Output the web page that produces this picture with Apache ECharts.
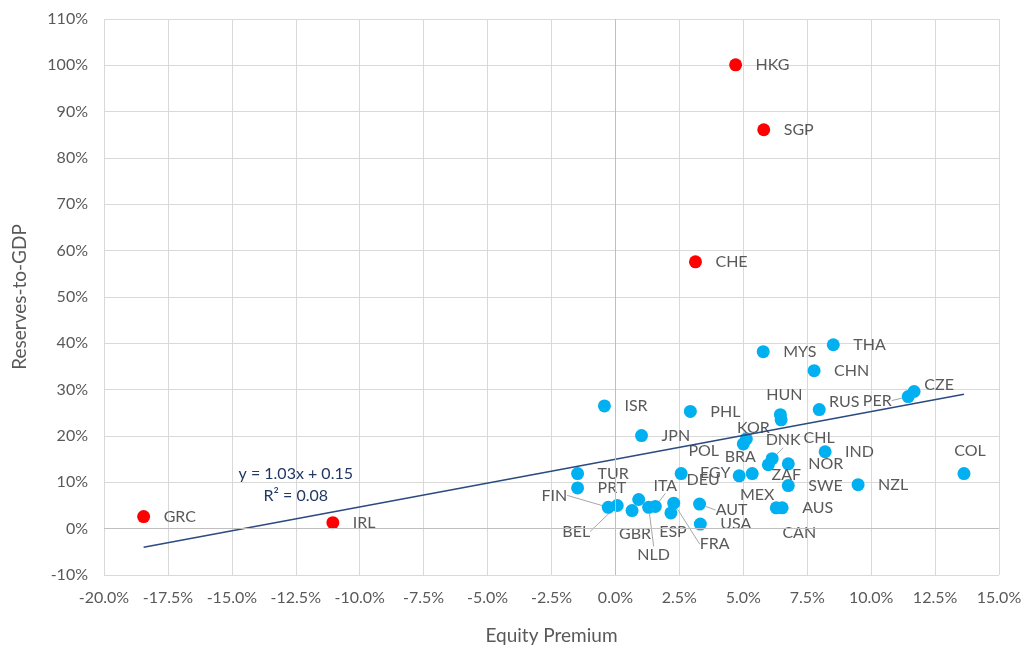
<!DOCTYPE html>
<html>
<head>
<meta charset="utf-8">
<script src="https://cdn.jsdelivr.net/npm/echarts@6/dist/echarts.min.js"></script>
<style>
  html, body { margin: 0; padding: 0; background: #fff; }
  #main { width: 1024px; height: 646px; }
</style>
</head>
<body>
<div id="main"></div>
<script>
var myChart = echarts.init(document.getElementById('main'));

// red = outliers
var redNames = ['HKG', 'SGP', 'CHE', 'GRC', 'IRL'];
var redX = [4.7, 5.8, 3.13, -18.45, -11.05];
var redY = [100.1, 86.1, 57.6, 2.6, 1.3];

var blueNames = ['ISR', 'PHL', 'JPN', 'TUR', 'PRT', 'FIN', 'BEL', 'GBR', 'POL', 'NLD',
                 'ITA', 'FRA', 'ESP', 'AUT', 'USA', 'DEU', 'KOR', 'BRA', 'HUN', 'CHL',
                 'EGY', 'MEX', 'DNK', 'ZAF', 'NOR', 'SWE', 'IND', 'AUS', 'CAN', 'NZL',
                 'COL', 'MYS', 'THA', 'CHN', 'RUS', 'PER', 'CZE'];
var blueX = [-0.43, 2.93, 1.02, -1.48, -1.48, -0.28, 0.07, 0.65, 0.91, 1.30,
             1.56, 2.28, 2.17, 3.29, 3.32, 2.57, 5.12, 5.0, 6.45, 6.48,
             4.84, 5.35, 6.13, 5.98, 6.76, 6.76, 8.2, 6.52, 6.29, 9.49,
             13.63, 5.78, 8.52, 7.77, 7.97, 11.45, 11.68];
var blueY = [26.5, 25.3, 20.1, 11.9, 8.8, 4.6, 5.0, 3.9, 6.3, 4.6,
             4.8, 5.5, 3.4, 5.3, 1.0, 11.9, 19.4, 18.3, 24.6, 23.5,
             11.4, 11.9, 15.1, 13.8, 14.0, 9.3, 16.6, 4.5, 4.5, 9.5,
             11.9, 38.2, 39.7, 34.1, 25.7, 28.5, 29.6];

// linear trendline (y = 1.03x + 0.15), end points
var trendX = [-18.45, 13.63];
var trendY = [-4.0, 29.0];
var trendText = 'y = 1.03x + 0.15\nR² = 0.08';

// moved labels: offset of label centre from the point, in px
var labelOffsets = {
  PER: [-31, 4], RUS: [25, -8], CZE: [25, -7], HUN: [4, -20], KOR: [7, -11],
  BRA: [-3, 13], DNK: [11, -19], CHL: [38, 18], ZAF: [18, 10], COL: [6, -23],
  MEX: [5, 21], CAN: [23, 25], EGY: [-24, -3], DEU: [22, 6], POL: [65, -49],
  ITA: [10, -21], GBR: [3, 23], NLD: [5, 47], ESP: [2, 19], FRA: [41, 41],
  AUT: [32, 6], BEL: [-41, 26], FIN: [-54, -12]
};
var leaderNames = ['PER', 'BRA', 'DNK', 'ITA', 'NLD', 'FRA', 'AUT', 'BEL', 'FIN'];

var FONT = 'Lato';
var TXT = '#595959';

function makeData(names, xs, ys) {
  return names.map(function (n, i) {
    var d = { name: n, value: [xs[i], ys[i]] };
    if (leaderNames.indexOf(n) >= 0) d.labelLine = { show: true };
    return d;
  });
}

function layoutFor(names) {
  return function (p) {
    var n = names[p.dataIndex];
    var cx = p.rect.x + p.rect.width / 2;
    var cy = p.rect.y + p.rect.height / 2;
    var o = labelOffsets[n];
    if (o) return { x: cx + o[0], y: cy + o[1], align: 'center', verticalAlign: 'middle' };
    return { x: cx + 20, y: cy, align: 'left', verticalAlign: 'middle' };
  };
}

var labelStyle = {
  show: true,
  formatter: '{b}',
  color: TXT,
  fontFamily: FONT,
  fontSize: 16
};

option = {
  animation: false,
  grid: { left: 104, right: 25, top: 19, bottom: 71, outerBoundsMode: 'none' },
  xAxis: {
    type: 'value',
    min: -20, max: 15, interval: 2.5,
    name: 'Equity Premium',
    nameLocation: 'middle',
    nameGap: 51,
    nameTextStyle: { color: TXT, fontFamily: FONT, fontSize: 19 },
    axisLine: { show: false },
    axisTick: { show: false },
    axisLabel: {
      color: TXT, fontFamily: FONT, fontSize: 16, margin: 15,
      formatter: function (v) { return v.toFixed(1) + '%'; }
    },
    splitLine: { lineStyle: { color: '#d9d9d9', width: 1 } }
  },
  yAxis: {
    type: 'value',
    min: -10, max: 110, interval: 10,
    name: 'Reserves-to-GDP',
    nameLocation: 'middle',
    nameGap: 75,
    nameTextStyle: { color: TXT, fontFamily: FONT, fontSize: 19 },
    axisLine: { show: false },
    axisTick: { show: false },
    axisLabel: {
      color: TXT, fontFamily: FONT, fontSize: 16, margin: 16,
      formatter: function (v) { return v + '%'; }
    },
    splitLine: { lineStyle: { color: '#d9d9d9', width: 1 } }
  },
  series: [
    {
      // zero lines
      type: 'line',
      data: [],
      silent: true,
      z: 1,
      markLine: {
        silent: true,
        symbol: 'none',
        label: { show: false },
        lineStyle: { color: '#bfbfbf', type: 'solid', width: 1 },
        data: [{ xAxis: 0 }, { yAxis: 0 }]
      }
    },
    {
      name: 'blue',
      type: 'scatter',
      symbolSize: 13,
      itemStyle: { color: '#00b0f0', opacity: 1 },
      label: labelStyle,
      labelLine: { show: false, lineStyle: { color: '#a6a6a6', width: 1 } },
      labelLayout: layoutFor(blueNames),
      data: makeData(blueNames, blueX, blueY),
      z: 3
    },
    {
      name: 'red',
      type: 'scatter',
      symbolSize: 13,
      itemStyle: { color: '#ff0000', opacity: 1 },
      label: labelStyle,
      labelLine: { show: false },
      labelLayout: layoutFor(redNames),
      data: makeData(redNames, redX, redY),
      z: 3
    },
    {
      name: 'trend',
      type: 'line',
      symbol: 'none',
      silent: true,
      lineStyle: { color: '#2a4a80', width: 1.5 },
      data: trendX.map(function (x, i) { return [x, trendY[i]]; }),
      z: 4,
      markPoint: {
        symbol: 'circle',
        symbolSize: 0,
        silent: true,
        label: {
          show: true,
          position: 'inside',
          formatter: trendText,
          color: '#203864',
          fontFamily: FONT,
          fontSize: 16,
          lineHeight: 22,
          align: 'center'
        },
        data: [{ coord: [-12.5, 9.5] }]
      }
    }
  ]
};
myChart.setOption(option);
</script>
</body>
</html>
